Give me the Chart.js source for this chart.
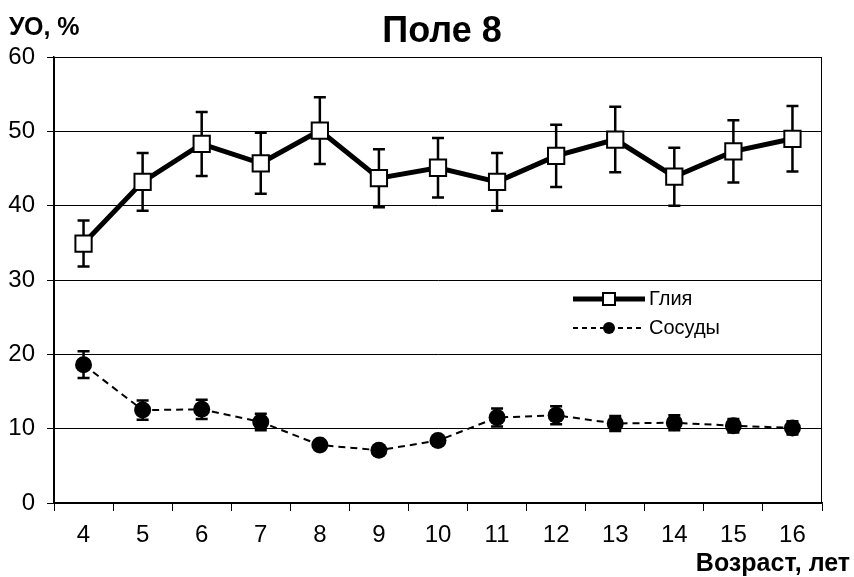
<!DOCTYPE html>
<html>
<head>
<meta charset="utf-8">
<script src="https://cdn.jsdelivr.net/npm/chart.js@4.4.1/dist/chart.umd.min.js"></script>
<style>
  html, body { margin: 0; padding: 0; background: #fff; }
  #wrap { width: 854px; height: 577px; }
</style>
</head>
<body>
<div id="wrap"><canvas id="chart" width="854" height="577"></canvas></div>
<script>
// age, years
const ages = ['4', '5', '6', '7', '8', '9', '10', '11', '12', '13', '14', '15', '16']

// Glia, % and its error
const glia = [34.9, 43.2, 48.3, 45.7, 50.1, 43.7, 45.1, 43.2, 46.7, 48.9, 43.9, 47.3, 49.0]
const gliaErr = [3.1, 3.9, 4.3, 4.1, 4.5, 3.9, 4.0, 3.9, 4.2, 4.4, 3.9, 4.2, 4.4]

// Vessels, % and its error
const vessels = [18.6, 12.5, 12.6, 10.9, 7.8, 7.1, 8.4, 11.5, 11.8, 10.7, 10.8, 10.4, 10.1]
const vesselsErr = [1.8, 1.3, 1.3, 1.1, 0.5, 0.5, 0.5, 1.2, 1.2, 1.0, 1.0, 0.9, 0.9]

const yTicks = [0, 10, 20, 30, 40, 50, 60]

const FONT = '"Liberation Sans", Arial, sans-serif'

// error bars drawn under the markers
const errorBars = {
  id: 'errorBars',
  beforeDatasetsDraw: (chart) => {
    const ctx = chart.ctx
    const x = chart.scales.x
    const y = chart.scales.y
    const sets = [[glia, gliaErr], [vessels, vesselsErr]]

    ctx.save()
    ctx.strokeStyle = '#000'
    ctx.lineWidth = 2.5
    sets.forEach(([vals, errs]) => {
      vals.forEach((v, i) => {
        const px = x.getPixelForValue(i)
        const top = y.getPixelForValue(v + errs[i])
        const bot = y.getPixelForValue(v - errs[i])
        ctx.beginPath()
        ctx.moveTo(px, top); ctx.lineTo(px, bot)
        ctx.moveTo(px - 6, top); ctx.lineTo(px + 6, top)
        ctx.moveTo(px - 6, bot); ctx.lineTo(px + 6, bot)
        ctx.stroke()
      })
    })
    ctx.restore()
  }
}

// frame, titles, legend
const decorations = {
  id: 'decorations',
  afterDraw: (chart) => {
    const ctx = chart.ctx
    const a = chart.chartArea

    ctx.save()
    ctx.strokeStyle = '#000'
    ctx.lineWidth = 1
    ctx.strokeRect(a.left + 0.5, a.top + 0.5, a.right - a.left - 1, a.bottom - a.top)

    ctx.fillStyle = '#000'
    ctx.textBaseline = 'alphabetic'
    ctx.textAlign = 'center'
    ctx.font = 'bold 36px ' + FONT
    ctx.fillText('Поле 8', 442, 42)

    ctx.textAlign = 'left'
    ctx.font = 'bold 25px ' + FONT
    ctx.fillText('УО, %', 9, 35)

    ctx.textAlign = 'right'
    ctx.fillText('Возраст, лет', 850, 571)

    // legend
    const lx1 = 573, lx2 = 645, lmid = 609
    ctx.lineWidth = 5
    ctx.beginPath(); ctx.moveTo(lx1, 299); ctx.lineTo(lx2, 299); ctx.stroke()
    ctx.fillStyle = '#fff'
    ctx.lineWidth = 2
    ctx.fillRect(lmid - 6, 293, 12, 12)
    ctx.strokeRect(lmid - 6, 293, 12, 12)

    ctx.lineWidth = 2
    ctx.setLineDash([5, 4])
    ctx.beginPath(); ctx.moveTo(lx1, 328); ctx.lineTo(lx2, 328); ctx.stroke()
    ctx.setLineDash([])
    ctx.fillStyle = '#000'
    ctx.beginPath(); ctx.arc(lmid, 328, 6, 0, Math.PI * 2); ctx.fill()

    ctx.textAlign = 'left'
    ctx.textBaseline = 'middle'
    ctx.font = '20px ' + FONT
    ctx.fillText('Глия', 649, 299)
    ctx.fillText('Сосуды', 649, 328)
    ctx.restore()
  }
}

new Chart(document.getElementById('chart'), {
  type: 'line',
  data: {
    labels: ages,
    datasets: [
      {
        label: 'Глия',
        data: glia,
        borderColor: '#000',
        borderWidth: 5,
        pointStyle: 'rect',
        pointRadius: 11.5,
        pointBorderWidth: 2,
        pointBackgroundColor: '#fff',
        pointBorderColor: '#000',
        tension: 0
      },
      {
        label: 'Сосуды',
        data: vessels,
        borderColor: '#000',
        borderWidth: 2,
        borderDash: [7, 5],
        pointStyle: 'circle',
        pointRadius: 8.5,
        pointBorderWidth: 0,
        pointBackgroundColor: '#000',
        tension: 0
      }
    ]
  },
  options: {
    responsive: false,
    animation: false,
    events: [],
    layout: { padding: { top: 57, right: 32, left: 0, bottom: 0 } },
    plugins: {
      legend: { display: false },
      title: { display: false },
      tooltip: { enabled: false }
    },
    scales: {
      x: {
        offset: true,
        grid: {
          offset: true,
          drawOnChartArea: false,
          drawTicks: true,
          tickLength: 8,
          color: '#000'
        },
        border: { color: '#000', width: 1.5 },
        ticks: {
          color: '#000',
          font: { family: FONT, size: 24 },
          padding: 10
        },
        afterFit: (scale) => { scale.height = 74 }
      },
      y: {
        min: 0,
        max: 60,
        afterBuildTicks: (scale) => { scale.ticks = yTicks.map(v => ({ value: v })) },
        grid: {
          color: '#000',
          lineWidth: 1,
          drawTicks: true,
          tickLength: 7
        },
        border: { color: '#000', width: 1.5 },
        ticks: {
          color: '#000',
          font: { family: FONT, size: 24 },
          padding: 12
        },
        afterFit: (scale) => { scale.width = 54 }
      }
    }
  },
  plugins: [errorBars, decorations]
})
</script>
</body>
</html>
